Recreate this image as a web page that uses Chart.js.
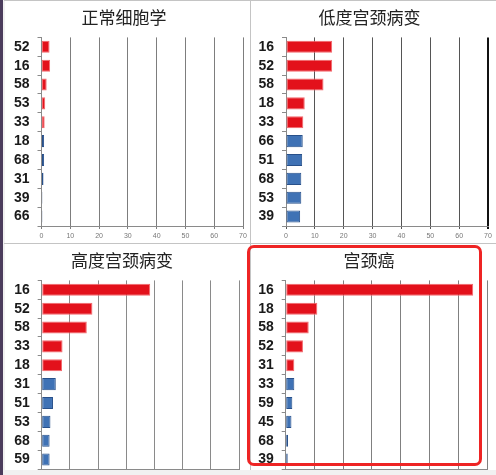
<!DOCTYPE html>
<html>
<head>
<meta charset="utf-8">
<script src="https://cdn.jsdelivr.net/npm/chart.js@4.4.1/dist/chart.umd.min.js"></script>
<style>
  html, body { margin: 0; padding: 0; }
  body { width: 496px; height: 475px; position: relative; overflow: hidden; background: #f1f1f1; }
  .panel { position: absolute; width: 245px; overflow: hidden; background: #fff; }
  .panel canvas { position: absolute; left: 0; top: 0; }
  #strip { position: absolute; left: 0; top: 0; width: 3px; height: 475px; background: #4b3c5c; }
  .vline { position: absolute; left: 250px; top: 0; width: 1px; height: 470px; background: #c4c4c4; }
  .hline { position: absolute; left: 4px; top: 243px; width: 492px; height: 1px; background: #c4c4c4; }
  .tline { position: absolute; left: 4px; top: 0; width: 492px; height: 1px; background: #c4c4c4; }
  #highlight { position: absolute; left: 247px; top: 245px; width: 229px; height: 215px;
    border: 3px solid #ee2424; border-radius: 7px; pointer-events: none; }
</style>
</head>
<body>
<div id="strip"></div>
<div class="panel" style="left:5px; top:1px; height:242px;"><canvas id="c1"></canvas></div>
<div class="panel" style="left:251px; top:1px; height:242px;"><canvas id="c2"></canvas></div>
<div class="panel" style="left:5px; top:244px; height:226px;"><canvas id="c3"></canvas></div>
<div class="panel" style="left:251px; top:244px; height:226px;"><canvas id="c4"></canvas></div>
<div class="vline"></div>
<div class="hline"></div>
<div class="tline"></div>
<div id="highlight"></div>
<script>
// HPV types, ordered as in each panel
const normalTypes = ['52', '16', '58', '53', '33', '18', '68', '31', '39', '66'];
const normalValues = [2.8, 3.0, 1.8, 1.3, 1.1, 0.9, 0.9, 0.7, 0.3, 0.3];

const lowGradeTypes = ['16', '52', '58', '18', '33', '66', '51', '68', '53', '39'];
const lowGradeValues = [16.0, 16.0, 13.0, 6.5, 6.0, 5.8, 5.6, 5.3, 5.3, 4.9];

const highGradeTypes = ['16', '52', '58', '33', '18', '31', '51', '53', '68', '59'];
const highGradeValues = [38.5, 18.0, 16.0, 7.4, 7.2, 5.0, 4.0, 3.1, 2.8, 2.8];

const cancerTypes = ['16', '18', '58', '52', '31', '33', '59', '45', '68', '39'];
const cancerValues = [65.2, 11.0, 8.0, 6.0, 3.0, 3.0, 2.3, 2.0, 0.8, 0.7];

const panelTitles = ['正常细胞学', '低度宫颈病变', '高度宫颈病变', '宫颈癌'];
const xTicks = [0, 10, 20, 30, 40, 50, 60, 70];

const RED = '#e3111b';
const RED_EDGE = '#f2686c';
const BLUE = '#3f72b5';
const BLUE_EDGE = '#28508a';
const RED_COUNT = 5;

function makePanel(canvasId, title, labels, values, opts) {
    const canvas = document.getElementById(canvasId);
    canvas.width = 245;
    canvas.height = 243;
    canvas.style.width = '245px';
    canvas.style.height = '243px';

    new Chart(canvas, {
        type: 'bar',
        data: {
            labels: labels,
            datasets: [{
                data: values,
                backgroundColor: ctx => ctx.dataIndex < RED_COUNT ? RED : BLUE,
                borderColor: ctx => ctx.dataIndex < RED_COUNT ? RED_EDGE : BLUE_EDGE,
                borderWidth: 1,
                borderSkipped: false,
                barPercentage: 0.64,
                categoryPercentage: 1
            }]
        },
        options: {
            indexAxis: 'y',
            responsive: false,
            animation: false,
            devicePixelRatio: 1,
            layout: { padding: { left: 0, right: opts.right, top: 0, bottom: 0 } },
            plugins: {
                legend: { display: false },
                tooltip: { enabled: false },
                title: {
                    display: true,
                    text: title,
                    color: '#222',
                    font: { family: '"Noto Sans CJK SC", sans-serif', size: 17, weight: 'normal', lineHeight: 1.2 },
                    padding: { top: 6, bottom: 10 }
                }
            },
            scales: {
                x: {
                    min: 0,
                    max: 70,
                    afterBuildTicks: scale => { scale.ticks = xTicks.map(v => ({ value: v })); },
                    afterFit: scale => { scale.height = 18; },
                    grid: {
                        color: ctx => (opts.edgeDark && ctx.tick && ctx.tick.value === 70) ? '#111' : opts.grid,
                        lineWidth: ctx => (opts.edgeDark && ctx.tick && ctx.tick.value === 70) ? 2 : 1,
                        tickLength: 3
                    },
                    border: { color: '#8a8a8a' },
                    ticks: {
                        color: '#777',
                        padding: 3,
                        autoSkip: false,
                        maxRotation: 0,
                        font: { family: '"Liberation Sans", sans-serif', size: 7 }
                    }
                },
                y: {
                    afterFit: scale => { scale.width = opts.axis; },
                    grid: { drawOnChartArea: false, tickLength: 4, color: '#8a8a8a' },
                    border: { color: '#8a8a8a' },
                    ticks: {
                        color: '#1a1a1a',
                        padding: 8,
                        autoSkip: false,
                        font: { family: '"Liberation Sans", sans-serif', size: 14, weight: 'bold' }
                    }
                }
            }
        }
    });
}

makePanel('c1', panelTitles[0], normalTypes, normalValues, { axis: 36.5, right: 7, grid: '#7d7d7d' });
makePanel('c2', panelTitles[1], lowGradeTypes, lowGradeValues, { axis: 35, right: 8, grid: '#555', edgeDark: true });
makePanel('c3', panelTitles[2], highGradeTypes, highGradeValues, { axis: 36.7, right: 11, grid: '#8a8a8a' });
makePanel('c4', panelTitles[3], cancerTypes, cancerValues, { axis: 34.7, right: 9, grid: '#808080' });
</script>
</body>
</html>
